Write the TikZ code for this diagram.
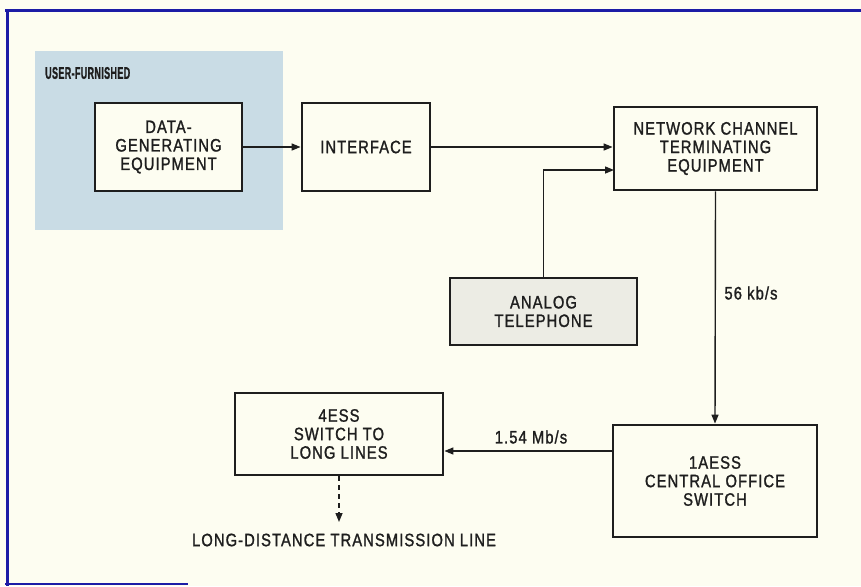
\documentclass[tikz,border=0pt]{standalone}
\usepackage{fontspec}
\setmainfont{Liberation Sans}[FakeStretch=0.82,LetterSpace=6,FakeBold=1.3]
\newfontfamily\hdfont{Liberation Sans Bold}[FakeStretch=0.53,LetterSpace=2,FakeBold=1]
\usetikzlibrary{arrows.meta,calc}
\definecolor{paper}{HTML}{FDFDF1}
\definecolor{frameblue}{HTML}{1C1CA6}
\definecolor{userblue}{HTML}{C9DCE5}
\definecolor{telgray}{HTML}{ECECE4}
\definecolor{ink}{HTML}{1E1E1E}
\tikzset{
  blockbox/.style={draw=ink, line width=2.8pt, fill=paper, align=center, inner sep=0pt,
    font=\fontsize{18}{18.5}\selectfont, text=ink},
  conn/.style={draw=ink, line width=1.4pt},
  arr/.style={conn, -{Triangle[length=9pt,width=7pt]}},
  lbl/.style={font=\fontsize{18}{18.5}\selectfont, text=ink, inner sep=0pt}
}
\begin{document}
\begin{tikzpicture}[x=1pt,y=-1pt]
\useasboundingbox (0,0) rectangle (861,586);
\fill[paper] (0,0) rectangle (861,586);
% blue frame
\draw[frameblue, line width=3pt] (5,11) -- (861,11);
\draw[frameblue, line width=3pt] (7,10) -- (7,586);
\draw[frameblue, line width=2.5pt] (5,584) -- (188,584);
% user-furnished shading
\fill[userblue] (35,51) rectangle (283,230);
\node[anchor=west, inner sep=0pt, text=ink, font=\hdfont\fontsize{17}{18}\selectfont] (uf) at (45,73) {USER-FURNISHED};
% blocks
\node[blockbox, minimum width=147pt, minimum height=88pt] (data) at (168.5,147) {DATA-\\GENERATING\\EQUIPMENT};
\node[blockbox, minimum width=128pt, minimum height=88pt] (intf) at (366,147) {INTERFACE};
\node[blockbox, minimum width=203pt, minimum height=83pt] (ncte) at (715.5,148.5) {NETWORK CHANNEL\\TERMINATING\\EQUIPMENT};
\node[blockbox, fill=telgray, minimum width=187pt, minimum height=67pt] (tel) at (543.5,311.5) {ANALOG\\TELEPHONE};
\node[blockbox, minimum width=204pt, minimum height=112pt] (aess) at (715,481) {1AESS\\CENTRAL OFFICE\\SWITCH};
\node[blockbox, minimum width=208pt, minimum height=82pt] (fess) at (339,434) {4ESS\\SWITCH TO\\LONG LINES};
% connectors
\draw[arr] (data.east) -- (intf.west);
\draw[arr] (intf.east) -- (intf.east -| ncte.west);
\coordinate (in2) at (614,170);
\draw[arr] (tel.north) |- (in2);
\draw[arr] (ncte.south) -- (aess.north);
\coordinate (out1) at (613,451);
\draw[arr] (out1) -- (out1 -| fess.east);
\coordinate (ldend) at (339,522);
\draw[conn, dash pattern=on 5pt off 4pt, -{Triangle[length=9pt,width=7pt]}] (fess.south) -- (ldend);
% labels
\node[lbl] (r56) at (751,293) {56 kb/s};
\node[lbl] (r154) at (531,437) {1.54 Mb/s};
\node[lbl] (ldtl) at (344,540) {LONG-DISTANCE TRANSMISSION LINE};
\end{tikzpicture}
\end{document}
